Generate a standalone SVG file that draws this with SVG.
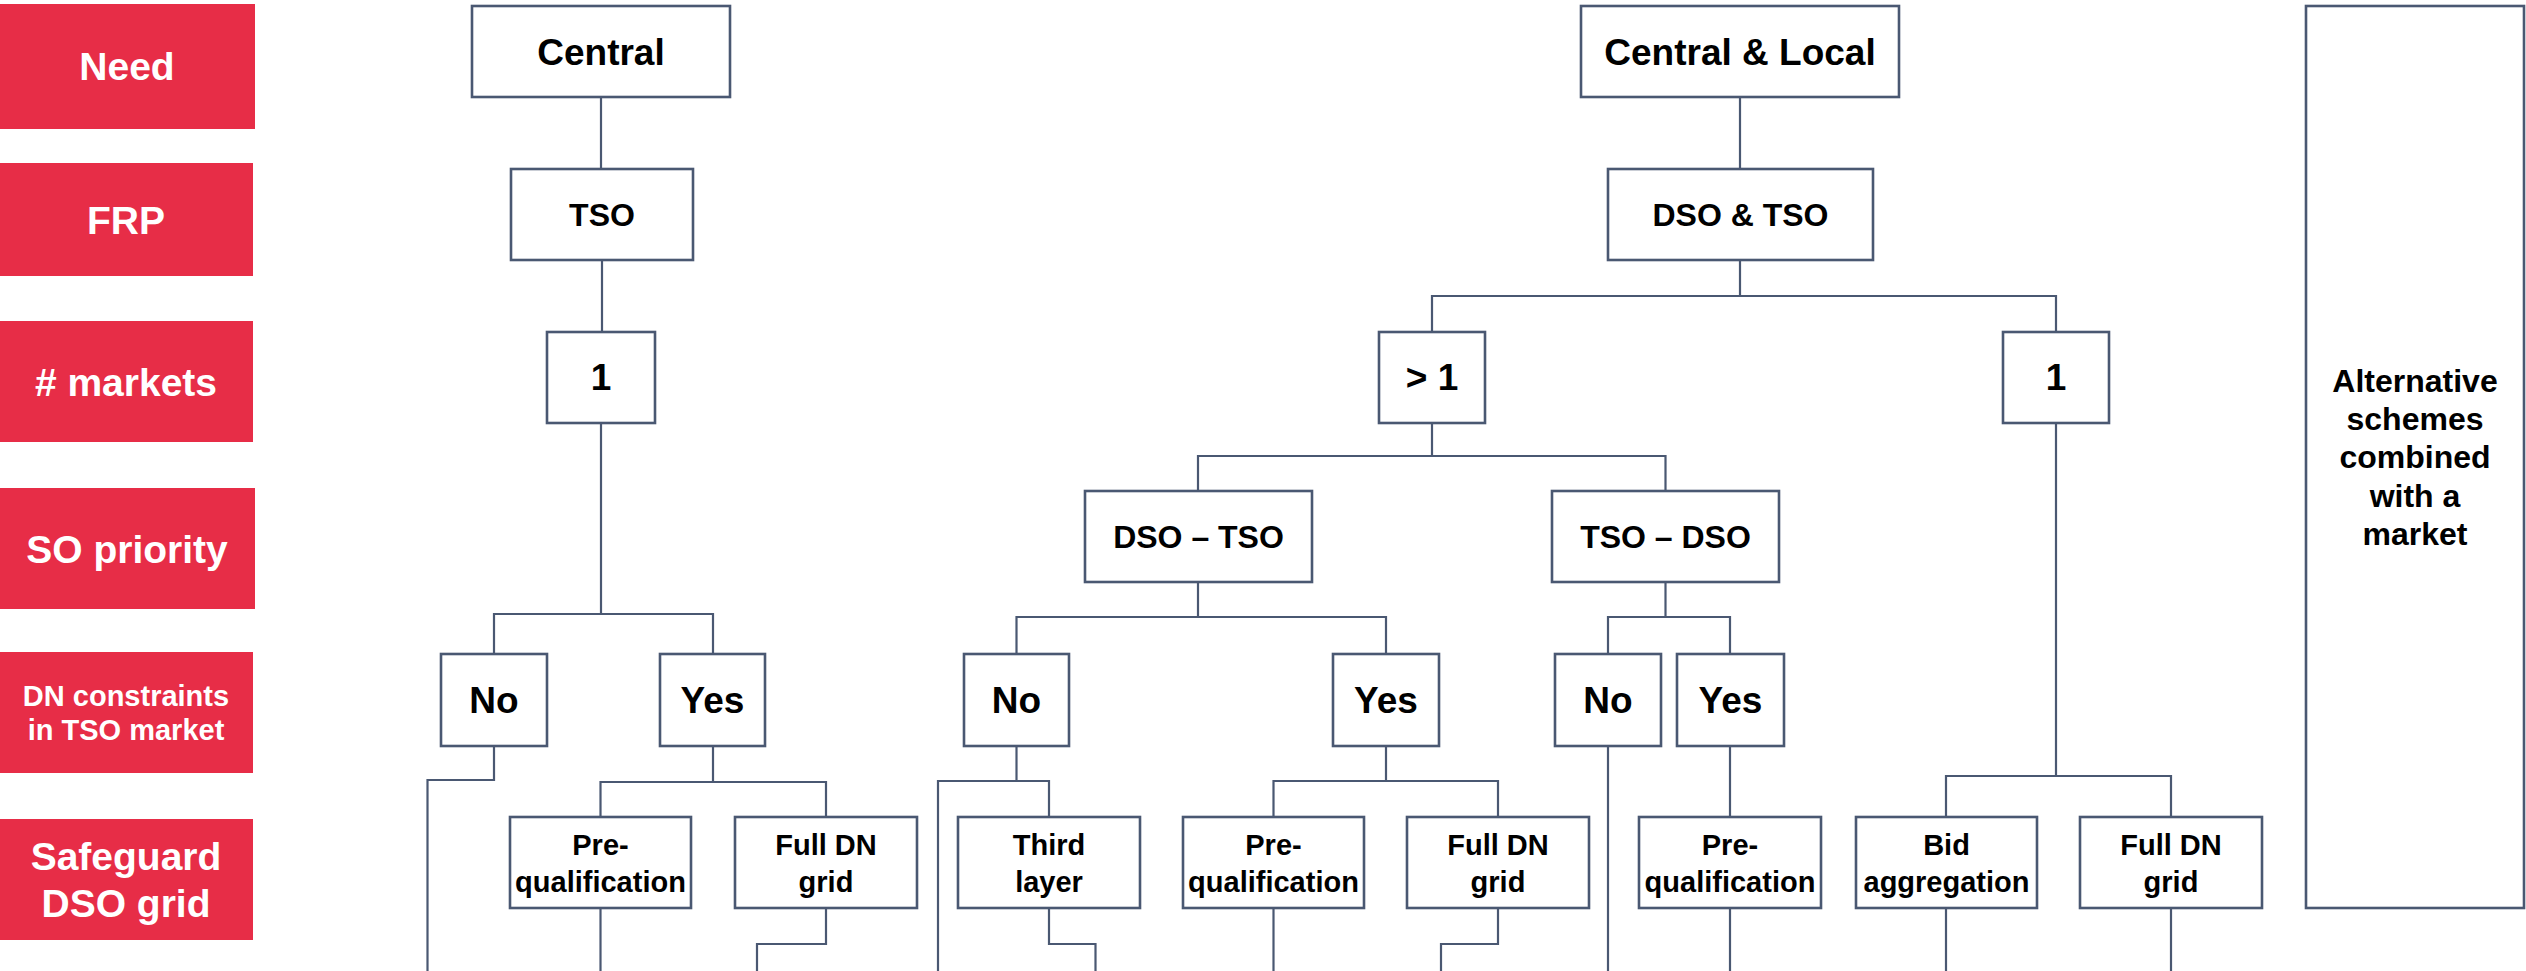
<svg xmlns="http://www.w3.org/2000/svg" width="2526" height="971" viewBox="0 0 2526 971">
  <style>
    .lbl rect { fill: #E72D47; }
    .lbl text { fill: #FFFFFF; font-family: "Liberation Sans", Arial, sans-serif; font-weight: bold; text-anchor: middle; }
    .node rect { fill: #FFFFFF; stroke: #4A5872; stroke-width: 2.6; }
    .node text { fill: #000000; font-family: "Liberation Sans", Arial, sans-serif; font-weight: bold; text-anchor: middle; }
    .big { font-size: 37px; }
    .mid { font-size: 32px; }
    .sm { font-size: 29px; }
    .lb { font-size: 39px; }
    #connectors path { fill: none; stroke: #4A5872; stroke-width: 2.2; }
  </style>

  <rect width="2526" height="971" fill="#FFFFFF"/>

  <!-- Row labels -->
  <g id="label-need" class="lbl"><rect x="0" y="4" width="255" height="125"/><text class="lb" x="127" y="80">Need</text></g>
  <g id="label-frp" class="lbl"><rect x="0" y="163" width="253" height="113"/><text class="lb" x="126" y="234">FRP</text></g>
  <g id="label-markets" class="lbl"><rect x="0" y="321" width="253" height="121"/><text class="lb" x="126" y="396"># markets</text></g>
  <g id="label-priority" class="lbl"><rect x="0" y="488" width="255" height="121"/><text class="lb" x="127" y="563">SO priority</text></g>
  <g id="label-constraints" class="lbl"><rect x="0" y="652" width="253" height="121"/><text class="sm" x="126" y="706">DN constraints</text><text class="sm" x="126" y="740">in TSO market</text></g>
  <g id="label-safeguard" class="lbl"><rect x="0" y="819" width="253" height="121"/><text class="lb" x="126" y="870">Safeguard</text><text class="lb" x="126" y="917">DSO grid</text></g>

  <!-- Connectors -->
  <g id="connectors">
    <path d="M601 97 V169"/>
    <path d="M602 260 V332"/>
    <path d="M601 423 V614"/>
    <path d="M494 654 V614 H713 V654"/>
    <path d="M494 746 V780 H427.5 V971"/>
    <path d="M713 746 V782"/>
    <path d="M600.5 817 V782 H826 V817"/>
    <path d="M600.5 908 V971"/>
    <path d="M826 908 V944 H757 V971"/>
    <path d="M1740 97 V169"/>
    <path d="M1740 260 V296"/>
    <path d="M1432 332 V296 H2056 V332"/>
    <path d="M1432 423 V456"/>
    <path d="M1198 491 V456 H1665.5 V491"/>
    <path d="M1198 582 V617"/>
    <path d="M1016.5 654 V617 H1386 V654"/>
    <path d="M1665.5 582 V617"/>
    <path d="M1608 654 V617 H1730 V654"/>
    <path d="M1016.5 746 V781"/>
    <path d="M938 971 V781 H1049 V817"/>
    <path d="M1049 908 V944 H1095.5 V971"/>
    <path d="M1386 746 V781"/>
    <path d="M1273.5 817 V781 H1498 V817"/>
    <path d="M1273.5 908 V971"/>
    <path d="M1498 908 V944 H1441 V971"/>
    <path d="M1608 746 V971"/>
    <path d="M1730 746 V817"/>
    <path d="M1730 908 V971"/>
    <path d="M2056 423 V776"/>
    <path d="M1946 817 V776 H2171 V817"/>
    <path d="M1946 908 V971"/>
    <path d="M2171 908 V971"/>
  </g>

  <!-- Need -->
  <g id="n-central" class="node"><rect x="472" y="6" width="258" height="91"/><text class="big" x="601" y="65">Central</text></g>
  <g id="n-central-local" class="node"><rect x="1581" y="6" width="318" height="91"/><text class="big" x="1740" y="65">Central &amp; Local</text></g>

  <!-- FRP -->
  <g id="n-tso" class="node"><rect x="511" y="169" width="182" height="91"/><text class="mid" x="602" y="226">TSO</text></g>
  <g id="n-dso-tso" class="node"><rect x="1608" y="169" width="265" height="91"/><text class="mid" x="1740.5" y="226">DSO &amp; TSO</text></g>

  <!-- Number of markets -->
  <g id="n-one-a" class="node"><rect x="547" y="332" width="108" height="91"/><text class="big" x="601" y="390">1</text></g>
  <g id="n-many" class="node"><rect x="1379" y="332" width="106" height="91"/><text class="big" x="1432" y="390">&gt; 1</text></g>
  <g id="n-one-b" class="node"><rect x="2003" y="332" width="106" height="91"/><text class="big" x="2056" y="390">1</text></g>

  <!-- SO priority -->
  <g id="n-prio-dso" class="node"><rect x="1085" y="491" width="227" height="91"/><text class="mid" x="1198.5" y="548">DSO – TSO</text></g>
  <g id="n-prio-tso" class="node"><rect x="1552" y="491" width="227" height="91"/><text class="mid" x="1665.5" y="548">TSO – DSO</text></g>

  <!-- DN constraints in TSO market -->
  <g id="n-no-a" class="node"><rect x="441" y="654" width="106" height="92"/><text class="big" x="494" y="713">No</text></g>
  <g id="n-yes-a" class="node"><rect x="660" y="654" width="105" height="92"/><text class="big" x="712.5" y="713">Yes</text></g>
  <g id="n-no-b" class="node"><rect x="964" y="654" width="105" height="92"/><text class="big" x="1016.5" y="713">No</text></g>
  <g id="n-yes-b" class="node"><rect x="1333" y="654" width="106" height="92"/><text class="big" x="1386" y="713">Yes</text></g>
  <g id="n-no-c" class="node"><rect x="1555" y="654" width="106" height="92"/><text class="big" x="1608" y="713">No</text></g>
  <g id="n-yes-c" class="node"><rect x="1677" y="654" width="107" height="92"/><text class="big" x="1730.5" y="713">Yes</text></g>

  <!-- Safeguard DSO grid -->
  <g id="n-preq-a" class="node"><rect x="510" y="817" width="181" height="91"/><text class="sm" x="600.5" y="855">Pre-</text><text class="sm" x="600.5" y="892">qualification</text></g>
  <g id="n-full-a" class="node"><rect x="735" y="817" width="182" height="91"/><text class="sm" x="826" y="855">Full DN</text><text class="sm" x="826" y="892">grid</text></g>
  <g id="n-third" class="node"><rect x="958" y="817" width="182" height="91"/><text class="sm" x="1049" y="855">Third</text><text class="sm" x="1049" y="892">layer</text></g>
  <g id="n-preq-b" class="node"><rect x="1183" y="817" width="181" height="91"/><text class="sm" x="1273.5" y="855">Pre-</text><text class="sm" x="1273.5" y="892">qualification</text></g>
  <g id="n-full-b" class="node"><rect x="1407" y="817" width="182" height="91"/><text class="sm" x="1498" y="855">Full DN</text><text class="sm" x="1498" y="892">grid</text></g>
  <g id="n-preq-c" class="node"><rect x="1639" y="817" width="182" height="91"/><text class="sm" x="1730" y="855">Pre-</text><text class="sm" x="1730" y="892">qualification</text></g>
  <g id="n-bid" class="node"><rect x="1856" y="817" width="181" height="91"/><text class="sm" x="1946.5" y="855">Bid</text><text class="sm" x="1946.5" y="892">aggregation</text></g>
  <g id="n-full-c" class="node"><rect x="2080" y="817" width="182" height="91"/><text class="sm" x="2171" y="855">Full DN</text><text class="sm" x="2171" y="892">grid</text></g>

  <!-- Alternative schemes column -->
  <g id="n-alternative" class="node">
    <rect x="2306" y="6" width="218" height="902"/>
    <text class="mid" x="2415" y="392">Alternative</text>
    <text class="mid" x="2415" y="430">schemes</text>
    <text class="mid" x="2415" y="468">combined</text>
    <text class="mid" x="2415" y="507">with a</text>
    <text class="mid" x="2415" y="545">market</text>
  </g>
</svg>
